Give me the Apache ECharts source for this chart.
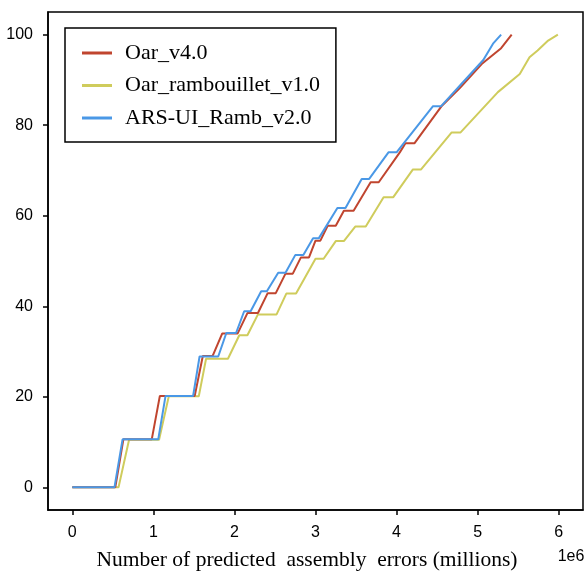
<!DOCTYPE html>
<html>
<head>
<meta charset="utf-8">
<script src="https://cdn.jsdelivr.net/npm/echarts@6/dist/echarts.min.js"></script>
<style>
  html, body { margin: 0; padding: 0; background: #fff; }
  #chart { width: 585px; height: 574px; }
</style>
</head>
<body>
<div id="chart"></div>
<script>
// x in millions of predicted assembly errors, y in percent
var oarX = [0, 0.53, 0.63, 0.98, 1.08, 1.51, 1.61, 1.73, 1.85, 2.04, 2.16, 2.29, 2.41, 2.51, 2.63, 2.72, 2.82, 2.92, 3.0, 3.06, 3.15, 3.25, 3.35, 3.47, 3.68, 3.78, 4.04, 4.11, 4.22, 4.56, 4.78, 5.05, 5.29, 5.42];
var oarY = [0, 0, 10.6, 10.6, 20.2, 20.2, 29, 29, 34, 34, 38.5, 38.5, 42.9, 42.9, 47.2, 47.2, 50.8, 50.8, 54.5, 54.5, 57.8, 57.8, 61.1, 61.1, 67.4, 67.4, 74, 76, 76, 84.3, 88.2, 93.5, 97, 100];

var rambX = [0, 0.57, 0.70, 1.07, 1.19, 1.56, 1.65, 1.92, 2.06, 2.16, 2.29, 2.52, 2.64, 2.76, 3.0, 3.10, 3.25, 3.35, 3.49, 3.62, 3.84, 3.96, 4.20, 4.30, 4.68, 4.79, 5.25, 5.52, 5.64, 5.74, 5.87, 5.99];
var rambY = [0, 0, 10.5, 10.5, 20.1, 20.1, 28.4, 28.4, 33.6, 33.6, 38.2, 38.2, 42.8, 42.8, 50.5, 50.5, 54.4, 54.4, 57.6, 57.6, 64.1, 64.1, 70.2, 70.2, 78.4, 78.4, 87.3, 91.3, 95, 96.5, 98.7, 100];

var arsX = [0, 0.52, 0.62, 1.06, 1.15, 1.49, 1.57, 1.80, 1.90, 2.02, 2.12, 2.20, 2.33, 2.40, 2.54, 2.63, 2.75, 2.85, 2.97, 3.04, 3.27, 3.37, 3.57, 3.66, 3.90, 4.00, 4.45, 4.55, 4.78, 5.07, 5.19, 5.29];
var arsY = [0, 0, 10.6, 10.6, 20.2, 20.2, 28.9, 28.9, 34.1, 34.1, 38.9, 38.9, 43.3, 43.3, 47.4, 47.4, 51.3, 51.3, 55, 55, 61.7, 61.7, 68.1, 68.1, 74, 74, 84.2, 84.2, 88.7, 94.4, 98, 100];

var names = ['Oar_v4.0', 'Oar_rambouillet_v1.0', 'ARS-UI_Ramb_v2.0'];
var colors = ['#c0452f', '#cfcc5c', '#4a98e6'];
var xTicks = [0, 1, 2, 3, 4, 5, 6];
var yTicks = [0, 20, 40, 60, 80, 100];

function pairs(xs, ys) {
    var out = [];
    for (var i = 0; i < xs.length; i++) {
        out.push([xs[i], ys[i]]);
    }
    return out;
}

var seriesData = [pairs(oarX, oarY), pairs(rambX, rambY), pairs(arsX, arsY)];

var tickFont = {fontFamily: 'Liberation Sans', fontSize: 16, color: '#000'};

var option = {
    animation: false,
    backgroundColor: '#fff',
    color: colors,
    grid: {
        left: 48, right: 2, top: 12, bottom: 64,
        show: true, borderColor: '#000', borderWidth: 1.5, backgroundColor: 'transparent'
    },
    legend: {
        data: names,
        orient: 'vertical',
        left: 65, top: 28,
        backgroundColor: '#fff',
        borderColor: '#000', borderWidth: 1.5, borderRadius: 0,
        padding: [14, 16, 13, 17],
        itemGap: 10.5,
        itemWidth: 30, itemHeight: 3,
        icon: 'rect',
        textStyle: {
            fontFamily: 'Liberation Serif', fontSize: 22, color: '#000',
            lineHeight: 22, padding: [0, 0, 0, 8]
        }
    },
    xAxis: {
        type: 'value',
        min: -0.3, max: 6.3,
        splitLine: {show: false},
        axisLine: {onZero: false, lineStyle: {color: '#000', width: 1.5}},
        axisTick: {show: true, customValues: xTicks, length: 5, lineStyle: {color: '#000', width: 1.5}},
        axisLabel: Object.assign({customValues: xTicks, margin: 15}, tickFont)
    },
    yAxis: {
        type: 'value',
        min: -5, max: 105,
        splitLine: {show: false},
        axisLine: {show: true, onZero: false, lineStyle: {color: '#000', width: 1.5}},
        axisTick: {show: true, customValues: yTicks, length: 5, lineStyle: {color: '#000', width: 1.5}},
        axisLabel: Object.assign({customValues: yTicks, margin: 15}, tickFont)
    },
    graphic: [
        {
            type: 'text', x: 307, y: 560,
            style: {
                text: 'Number of predicted  assembly  errors (millions)',
                font: '21.5px "Liberation Serif"', fill: '#000',
                align: 'center', verticalAlign: 'middle'
            }
        },
        {
            type: 'text', x: 571, y: 557,
            style: {
                text: '1e6', font: '16px "Liberation Sans"', fill: '#000',
                align: 'center', verticalAlign: 'middle'
            }
        }
    ],
    series: names.map(function (n, i) {
        return {
            name: n,
            type: 'line',
            data: seriesData[i],
            showSymbol: false,
            lineStyle: {width: 2, color: colors[i]},
            itemStyle: {color: colors[i]},
            z: i === 1 ? 1 : (i === 0 ? 2 : 3)
        };
    })
};

var myChart = echarts.init(document.getElementById('chart'));
myChart.setOption(option);
</script>
</body>
</html>
